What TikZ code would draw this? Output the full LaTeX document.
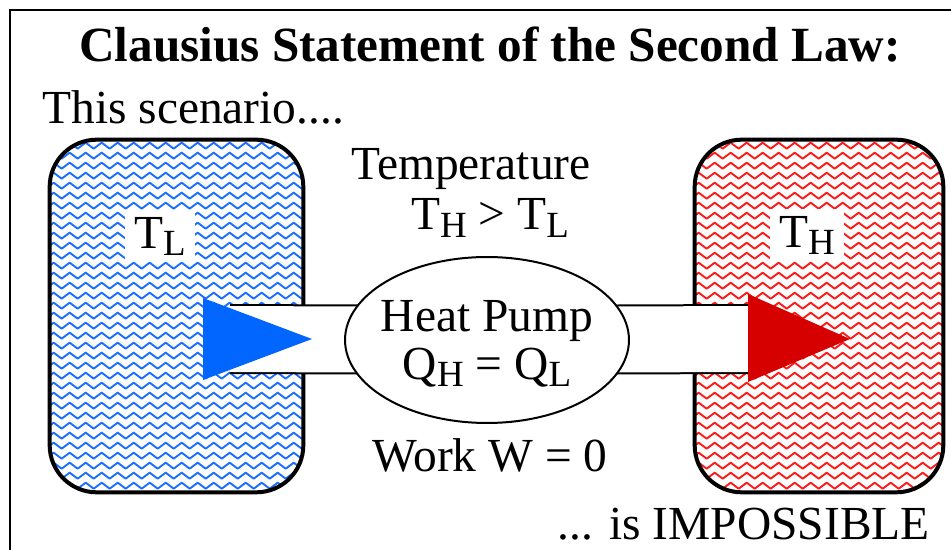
\documentclass[tikz,border=0pt]{standalone}
\usepackage{fontspec}
\setmainfont{Liberation Serif}
\usepackage{tikz}
\usetikzlibrary{positioning,shapes.geometric,calc}
\definecolor{coldblue}{RGB}{0,102,255}
\definecolor{waveblue}{RGB}{25,110,255}
\definecolor{hotred}{RGB}{215,0,0}
\definecolor{wavered}{RGB}{255,25,25}
\newcommand{\lowsub}[1]{\raisebox{-4pt}{\fontsize{21}{21}\selectfont #1}}

\begin{document}
\begin{tikzpicture}[x=0.02cm, y=-0.02cm,
        txt/.style={font=\fontsize{27}{28.5}\selectfont, inner sep=0pt, align=center},
        wave/.style={line width=0.038cm, line join=round, sharp corners},
        reservoir/.style={fill=white, minimum height=7.04cm, inner sep=0pt},
        rim/.style={draw=black, line width=0.08cm, rounded corners=0.94cm},
        tlabel/.style={fill=white, inner xsep=5pt, inner ysep=4pt,
                       font=\fontsize{27}{28}\selectfont},
        band/.style={line width=0.04cm, double=white, double distance=1.32cm},
        pumpshape/.style={ellipse, draw=black, line width=0.04cm, fill=white,
                          minimum width=5.68cm, minimum height=3.32cm, inner sep=0pt}
      ]
        \useasboundingbox (0,0) rectangle (951,550);
        \draw[line width=0.05cm] (10,550) -- (10,10) -- (951,10);

        \node[font=\bfseries\fontsize{28}{30}\selectfont, anchor=base] (title)
              at (490,62) {Clausius Statement of the Second Law:};
        \node[txt, anchor=base west] (scen) at (42,124) {This scenario....};

        \node[reservoir, minimum width=5.06cm] (cold) at (176.5,316) {};
        \node[reservoir, minimum width=4.96cm] (hot) at (819,316) {};
        \foreach \bx/\col in {cold/waveblue, hot/wavered} {
          \begin{scope}
            \clip[rounded corners=0.94cm] (\bx.north west) rectangle (\bx.south east);
            \foreach \k in {0,...,35}
              \draw[wave, \col] ($(\bx.north west)+(0,\k*10+6)$)
                \foreach \i in {1,...,17} {-- ++(4,-3) -- ++(8,6) -- ++(4,-3)};
          \end{scope}
          \draw[rim] (\bx.north west) rectangle (\bx.south east);
        }
        \node[tlabel] (tl) at (160,236) {T\lowsub{L}};
        \node[tlabel] (th) at (807,235) {T\lowsub{H}};

        \coordinate (baseL) at (230,339);
        \coordinate (baseR) at (748,339);
        \coordinate (pumpc) at (487,340);
        \draw[band] (baseL) -- (pumpc);
        \draw[band] (pumpc) -- (baseR);
        \fill[coldblue] (203,298) -- (312,339) -- (203,380) -- cycle;
        \fill[hotred] (748,294) -- (850,339) -- (748,382) -- cycle;

        \node[pumpshape] (pump) at (pumpc) {};
        \node[txt] (pumptxt) at ([yshift=-0.08cm]pump.center)
              {Heat Pump\\[-1pt] Q\lowsub{H} = Q\lowsub{L}};
        \node[txt, anchor=base] (temp) at (471,180) {Temperature};
        \node[txt, anchor=base] (ineq) at (490,230) {T\lowsub{H} > T\lowsub{L}};
        \node[txt, anchor=base] (work) at (490,472) {Work W = 0};
        \node[txt, anchor=base east] (imp) at (930,540) {... is IMPOSSIBLE};
      \end{tikzpicture}
\end{document}
